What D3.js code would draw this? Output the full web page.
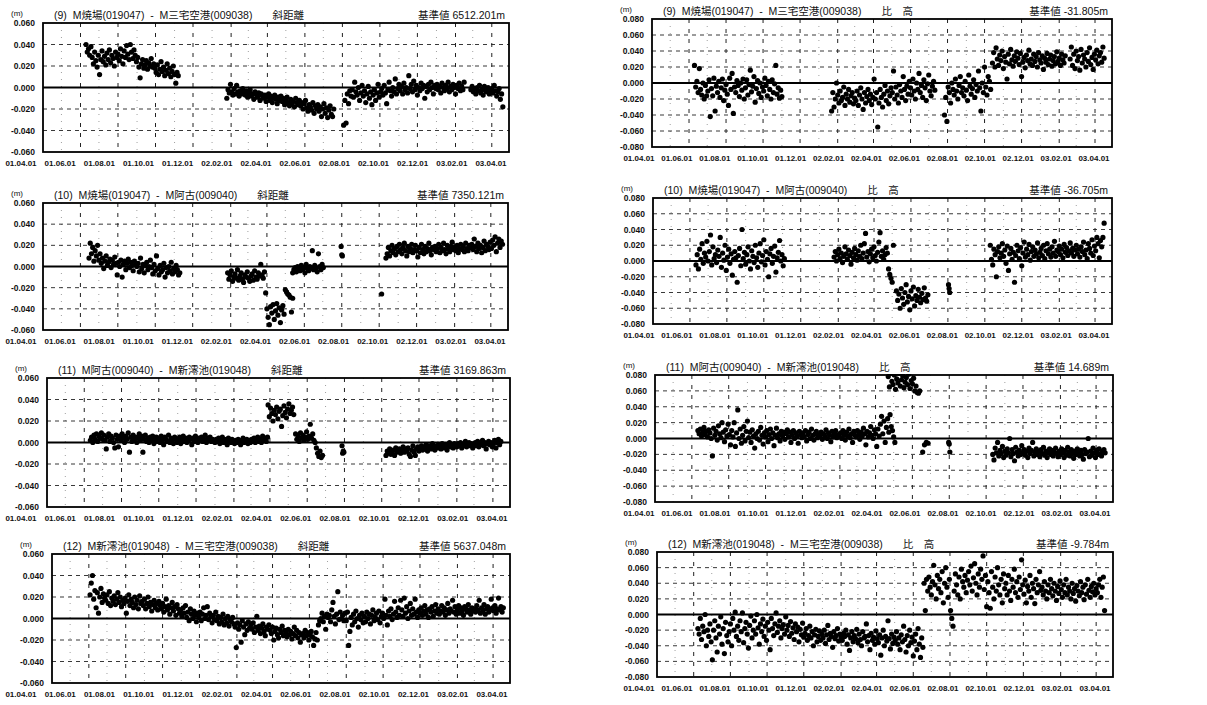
<!DOCTYPE html>
<html>
<head>
<meta charset="utf-8">
<script src="https://cdn.jsdelivr.net/npm/d3@7"></script>
<style>
body { margin: 0; background: #fff; }
svg text { font-family: "Liberation Sans", Arial, "Noto Sans CJK JP", sans-serif; fill: #111; }
</style>
</head>
<body>
<script>
// axis ticks
var xTickDates = ["2001-04-01", "2001-06-01", "2001-08-01", "2001-10-01", "2001-12-01", "2002-02-01",
    "2002-04-01", "2002-06-01", "2002-08-01", "2002-10-01", "2002-12-01", "2003-02-01", "2003-04-01"];
var yTicksDist = [-0.06, -0.04, -0.02, 0, 0.02, 0.04, 0.06];
var yTicksHgt = [-0.08, -0.06, -0.04, -0.02, 0, 0.02, 0.04, 0.06, 0.08];

// panel texts
var titles = ["(9)  M焼場(019047)  -  M三宅空港(009038)",
    "(10)  M焼場(019047)  -  M阿古(009040)",
    "(11)  M阿古(009040)  -  M新澪池(019048)",
    "(12)  M新澪池(019048)  -  M三宅空港(009038)"];
var baseDist = ["基準値 6512.201m", "基準値 7350.121m", "基準値 3169.863m", "基準値 5637.048m"];
var baseHgt = ["基準値 -31.805m", "基準値 -36.705m", "基準値 14.689m", "基準値 -9.784m"];

// data: [first day, step in days, values in mm]
var dist9 = [
    ["2001-06-10", 2, [40,33,36,30,38, 28,22,33,25,19,30,12,26,34,24, 29,21,32,26,35,23,30,27,20,33,28,
        31,25,36,29,22,34,28,39,31,26,40,33,27,35,30, 24,28,19,9,22,26,18,21,25,17,23,20,27,19,22,
        18,14,21,12,17,24,15,19,11,16,22,13,18,10,15,20,12,4,14,11]],
    ["2002-01-25", 2, [-10,-2,-5,3,-4,-7,-1,-6,2,-4,-8,-3,-6,-1,-5, -7,-3,-9,-5,-2,-8,-6,-11,-4,-7,-9,-5,-12,-6,-8,
        -10,-7,-13,-9,-6,-12,-8,-14,-10,-7,-11,-15,-9,-12,-8, -13,-10,-16,-12,-9,-14,-17,-11,-15,-13,-18,-10,-14,-16,-12,
        -17,-14,-20,-15,-12,-19,-22,-16,-18,-21,-14,-24,-17,-20,-16, -22,-18,-27,-20,-15,-24,-19,-28,-21,-17,-25,-27,-20]],
    ["2002-08-03", 2, [-35,-12,-33,-6,-15,-3,-8, -2,-9,5,-4,-7,0,-12,-5,2,-8,-3,-14,-6,1,-10,-4,-16,-7,-2,-12,-5,3,-9,
        -4,-1,-7,2,-5,-15,-2,5,-3,-8,0,-4,8,-6,-1,3, -3,1,-6,4,-2,0,-5,11,-1,3,-4,6,-2,2,-7,
        0,-3,4,-1,2,-10,1,-4,3,-2,5,0,-6,2,-1, 3,-2,1,-5,4,0,-3,2,-1,5,-4,1,-2,3,0,-6, 2,-1,4,-3,1,-2,5]],
    ["2003-02-26", 2, [-2,1,-4,-1,-6,0,-3,2,-5,-2,-7,1,-3,-4,0,-6,-2,-1,-5,2,-3,-8,-4,-1,-11,-6,-18]]
];
var hgt9 = [
    ["2001-06-10", 2, [22,-5,2,-12,18,-8,-15,0,-20,-3,-16, -10,4,-42,-7,-16,6,-35,-4,-12,2,-18,-6,5,-22,-9,
        -2,-14,-28,6,-8,12,-38,-5,-12,3,-3,-17,0,-9,5,-20, -6,4,-15,-2,16,-11,-4,8,-24,-7,3,-13,0,-18,-5,
        -10,6,-3,-16,2,-8,-20,4,-12,-1,22,-14,-6,-19,-9,-17]],
    ["2002-01-22", 2, [-35,-12,-30,-20,0,-15,-25,-10,-22,-18,-5,-28,-14,-20,-8,-24,-16,-12,-26,-19,
        -22,-10,-28,-15,-6,-20,-33,-12,-25,-17,-8,-22,-14,-27,-18, 5,-20,-12,-55,-25,-8,-18,-30,-14,-3,-22,-10,-26,-16,-6,
        -12,15,-20,-5,-15,-25,-2,-10,-18,8,-8,-22,-4,-14,2, -6,-15,5,-10,-20,0,-8,12,-12,-3,-18,4,-6,-22,-1,10,-10,-16,-4,2,-9]],
    ["2002-07-27", 2, [-40,-18,-48,-5,-12,-25,0,-8,-15,5,-10,-20,-3,8,-12,-6,-16,2,-9,-22,10,-4,-14,-7,4,-18,-2,-10,15,-6,
        -35,0,-12,20,-5,-15,8,2,-8]],
    ["2002-10-14", 2, [25,38,20,44,30,22,35,28,40,18, 33,26,5,36,24,42,29,21,34,27, 39,31,23,37,8,26,32,19,35,28,
        41,24,30,22,36,27,33,20,38,29, 25,34,17,31,26,37,23,30,35,21, 28,33,24,39,27,31,22,36,29,25, 34]],
    ["2003-02-19", 2, [30,45,22,36,18,40,28,33,16,42,25,35,30,20,38,27,44,23,32,17,36,29,41,24,34,38,26,45,31]]
];
var dist10 = [
    ["2001-06-15", 2, [8,22,12,18,5,15,10,20, 6,12,3,8,-2,5,10,1,4,7,-1,6,2,9,3, -8,4,0,6,-10,2,5,-3,3,7,-1,4,1,-4,5,2,
        0,3,-5,8,-2,2,-6,1,4,-3,0,6,-1,-7,2, -4,10,-2,-8,1,-5,-3,3,-10,-1,-6,0,-4,4,-7,-2,-5,1,-3,-8,-6]],
    ["2002-01-27", 2, [-6,-12,-8,-4,-14,-10,-7,-11,-3,-13,-9,-6,-12,-15,-8,-10,-5,-11,-14,-9,-7,-13,-4,-10,-12,-6,-9,2,-8,-11,-5]],
    ["2002-03-30", 2, [-25,-40,-48,-55,-38,-44,-36,-50,-42,-35,-46,-39,-53,-41,-37,-45,-22,-24,-26,-27,-29,-43,-30]],
    ["2002-05-13", 2, [-6,-3,-1,-5,0,-2,-4,1,-3,-1,-6,2,-2,-4,0,-1,15,-3,1,-2,-5,12,0,-3,2,-1]],
    ["2002-07-31", 1, [19,11,10]],
    ["2002-10-05", 1, [-26]],
    ["2002-10-12", 2, [8,12,18,10,15,20,13,17,11,19, 14,21,16,12,18,22,15,10,19,14,17,21,13,16,20,
        15,9,18,13,21,16,12,19,14,17,22,15,11,18,16, 19,14,17,21,13,18,15,22,16,12,20,17,14,19,23,16,
        18,15,20,13,17,21,16,19,14,22,17,15,20,18, 21,16,26,19,14,22,17,20,13,18,24,15,21,19,16,23,
        17,25,20,28,14,22,26,18,24,21]]
];
var hgt10 = [
    ["2001-06-11", 2, [-5,8,-10,15,2,22,-3,10,5,25, 0,12,33,-5,18,3,8,-2,14,6,30,-8,10,1,20,
        -12,5,15,-3,9,-18,2,12,4,-27,7,16,-6,40,3,11, -4,8,18,0,-10,13,6,-2,20,4,-8,10,22,-1,7,
        27,-5,12,2,-20,9,16,-3,6,19,-14,4,11,26,0,8,-6,3]],
    ["2002-01-25", 2, [5,12,0,8,15,3,10,-2,6,18, 9,2,14,7,-4,11,4,16,8,1, 13,6,20,3,10,22,35,5,12,-1,
        9,15,4,18,7,0,11,24,36,6, 13,2,8,17,10,-10,-17,-22,-27,20]],
    ["2002-05-08", 2, [-38,-50,-42,-60,-35,-47,-55,-40,-30,-52,-45,-62,-38,-48,-33,-57,-44,-50,-36,-46,-53,-41,-49,-34,-47,-51,-43]],
    ["2002-08-02", 1, [-30,-35,-40]],
    ["2002-10-10", 2, [20,2,-5,15,8,-20,12,18,4,10,22, 6,14,-3,19,-12,9,16,2,11,-27,7,20,13,3,17,
        -6,10,24,5,15,8,21,1,12,18,6,14,9,23,4, 11,16,7,20,3,13,22,9,15,5,18,10,25,6,14,12,
        19,8,15,4,21,11,17,7,13,23,10,16,6,14, 20,9,15,5,18,12,24,8,14,3,22,16,10,27,7,19, 13,30,22,4,26,18,30,48]]
];
var dist11 = [
    ["2001-06-11", 2, [2,5,0,7,3,8,1,6,4,9, 3,7,2,-6,5,8,1,6,4,0,-5,7,3,-4,6, 2,8,4,0,6,3,9,-9,5,1,7,3,5,0,4,8,
        2,6,-9,3,7,1,4,0,5,2,6,-1,3,5,1, 4,0,6,2,-2,5,3,1,7,0,4,2,-1,5,3,0, 2,5,-1,3,6,1,4,0,2,5,3,-2,4,1,6,
        3,0,4,2,5,1,3,7,0,4,2,5,1,3,2, 0,3,1,4,-1,2,5,0,3,1,-2,4,2,0,3,1, -1,2,0,3,1,-2,2,4,0,1,3,-1,2,0,
        3,1,4,0,2,5,1,3,0,6,2,4,1,5]],
    ["2002-03-29", 2, [35,24,32,27,20,30,26,33,22,29,31,15,25,34,28,23,31,36,27,30,33,26]],
    ["2002-05-13", 2, [8,3,6,1,9,4,7,2,5,10,3,6,17,4,8,2,0,-5,-10,-13,-8,-14,-12]],
    ["2002-07-28", 1, [-3,-10,-8,-9]],
    ["2002-10-08", 2, [-12,-8,-10,-6,-11,-9,-7,-12,-5,-9,-8,-6, -10,-7,-4,-9,-6,-8,-5,-11,-13,-7,-3,-9,-12,-6,-4,
        -8,-5,-3,-7,-4,-6,-2,-8,-5,-3,-6,-1,-4,-7,-3, -5,-2,-4,-6,-1,-3,-5,-2,-7,-3,0,-4,-2,-5,-1,-3,
        -4,-1,-3,0,-5,-2,-3,1,-4,-2,0,-3,-1,-5, -2,0,-3,1,-4,-1,-2,2,-3,0,-6,-1,1,-2,0,-4, -1,2,-5,0,3,-2,1]]
];
var hgt11 = [
    ["2001-06-11", 2, [10,6,12,3,8,14,5,9,2,11, 7,0,-22,13,4,9,-2,16,6,1,20,8,-4,11,3,18, 5,-8,10,2,20,-10,7,36,0,12,-6,4,15,-3,9,
        22,1,8,-5,11,3,-12,6,0,9,-2,14,4,-7,7, 2,10,-4,5,12,0,7,-9,4,13,1,6,-3,9,3,8, -1,6,11,2,8,-5,4,10,0,7,3,-6,9,5,1,
        7,2,10,-3,5,8,0,12,4,-2,6,9,1,5,3, 8,-1,6,3,11,0,7,4,-4,9,2,6,10,1,5,3, 7,0,10,4,-2,8,3,12,1,6,-5,9,4,2,
        10,5,-1,8,3,13,6,-8,9,2,7,15,4,0,11,6, -10,12,3,18,28,6,22,-5,14,25,8,30,15,10,2,-5]],
    ["2002-04-22", 2, [78,65,82,72,68,80,62,75,70,82,66,74,79,64,71,77,68,81,63,73,69,76,60,66,58,57,60]],
    ["2002-06-18", 3, [-17,-8,-5,-6]],
    ["2002-07-31", 1, [-5,-7,-17]],
    ["2002-10-12", 2, [-20,-27,-12,-18,-5,-22,-15,-19,-10,-24, -16,-21,-13,-18,0,-23,-14,-19,-28,-11,-17,-22,-15,-20,-9,
        -18,-14,-21,-16,-24,-12,-19,-15,-5,-22,-17,-13,-20,-16,-23, -14,-19,-11,-21,-16,-24,-18,-13,-20,-15,-22,-17,-12,-19,-23,-16,
        -20,-13,-18,-24,-15,-21,-11,-17,-22,-14,-19,-25,-16,-20, -13,-18,-22,-15,-20,-26,-14,-19,-17,0,-23,-16,-21,-12,-18,-24,
        -15,-20,-13,-19,-22,-16,-14,-18]]
];
var dist12 = [
    ["2001-06-03", 2, [22,33,40,18,26,10,24,5,20,28,15,23,19, 17,22,14,25,12,19,16,21,13,18,24,15,20,11,17,
        14,19,5,16,22,12,18,15,10,20,13,17,9,21,14,16, 12,18,9,14,20,11,15,7,13,17,10,14,8,16,12,
        9,14,6,11,18,8,12,4,10,15,7,11,3,13,9,5, 8,2,10,5,12,1,6,-2,9,4,0,7,3,-3,5, 1,6,-2,4,10,0,3,11,-1,5,2,-4,3,-1,6,
        -2,2,-5,1,-3,4,-6,0,-4,2,-7,-1,-3,1,-5,-8, -27,-4,-10,-6,-22,-2,-8,-15,-5,-11,-3,-9,
        -6,-10,-4,-13,-8,2,-11,-7,-14,-9,-5,-12,-16,-8,-10,-6, -11,-14,-8,-20,-12,-9,-15,-18,-10,-13,-7,-16,-11,
        -13,-17,-10,-15,-12,-19,-14,-8,-16,-11,-18,-13,-22,-15, -14,-18,-11,-16,-13,-20,-15,-12,-17,-25,-19,-13, -20,-6,-2]],
    ["2002-06-20", 2, [0,5,-3,2,-10,4,1,3,-3,8,15,2,-5,4,25,-1,6,0,3,-2,5, -2,6,-25,-12,1,-6,4,-3,7,0,-8,3,-1,5,-4,
        2,-3,6,0,4,-5,3,8,-2,1,5,-1,7,-4,2, 5,0,18,3,-6,7,2,9,-1,4,16,6,1,10,3,17, 8,2,19,5,11,0,7,14,3,9,4,18,6,1,8,
        5,10,3,7,12,4,8,1,9,6,11,2,7,13,5, 9,4,7,12,6,10,3,8,14,5,9,7,17,6,11,4, 8,12,5,10,7,3,11,9,6,13,8,4,10,7,
        9,6,12,8,17,5,10,7,13,4,9,11,6,8,18,10, 7,12,5,9,19,8,11,6,10]]
];
var hgt12 = [
    ["2001-06-08", 2, [-18,-25,-5,-32,-15,-22,0,-40,-20,-28,-12,-35, -58,-20,-8,-30,-48,-15,-25,-3,-38,-18,-50,-10,-27,-35,-22,
        -12,-40,-5,-20,3,-28,-15,-33,-8,-22,2,-36,-18,-10,-25,-43, -14,-2,-30,-20,-8,-25,0,-17,-38,-12,-22,-6,-28,-15,-33,
        -10,-20,-45,-5,-18,-27,-12,2,-23,-15,-8,-30,-18,-13,-25,-3, -20,-14,-28,-9,-24,-17,-32,-12,-22,-16,-35,-19,-26,-11,-29,
        -24,-18,-33,-27,-15,-30,-22,-40,-26,-19,-35,-28,-21,-33,-25, -30,-20,-37,-26,-14,-32,-24,-28,-42,-22,-31,-27,-18,-34,-25,-29,
        -33,-24,-28,-20,-38,-26,-46,-30,-22,-35,-27,-31,-19,-36, -25,-32,-40,-22,-30,-28,-12,-35,-27,-45,-24,-33,-29,-38,-21,-31,
        -36,-26,-52,-30,-20,-40,-28,-34,-8,-31,-44,-25,-37,-29,-33, -22,-38,-30,-45,-26,-35,-15,-32,-48,-27,-40,-20,-36,-29,-53,
        -34,-25,-45,-18,-38,-55,-30,-42]],
    ["2002-06-19", 2, [40,5,45,30,48,35, 25,42,63,38,20,50,33,45,28,55,15,40,60,35,22, 45,5,-5,-15,30,52,38,25,48,20,58,42,35,50,28,44,
        55,38,62,30,47,65,40,25,52,35,58,45,75,32,50, 10,42,28,8,55,35,20,48,30,60,38,25,45,15,52,33,
        40,25,50,30,18,45,35,58,28,42,22,48,32,70,38, 26,44,15,36,30,50,22,40,33,14,45,28,38,55,31,
        35,25,42,30,20,38,28,45,33,24,40,30,18,36,27,43, 32,22,38,28,45,25,35,30,20,40,27,33,17,37,
        30,24,42,28,35,19,38,26,45,31,22,36,29,40,25,33, 28,38,45,22,35,48,5]]
];

// layout of the plot areas [left, right, top, bottom]; label row starts at a fixed x per column
var leftBoxes = [[43, 509, 23, 152], [43, 508, 203, 330], [47, 510, 378, 507], [52, 510, 554, 683]];
var rightBoxes = [[652, 1112, 19, 147], [653, 1112, 198, 324], [655, 1113, 375, 502], [657, 1113, 552, 677]];

var parseDay = d3.utcParse("%Y-%m-%d");
var fmtX = d3.utcFormat("%y.%m.%d");
var fmtY = function(v) { return (v < 0 ? "-" : "") + Math.abs(v).toFixed(3); };

var svg = d3.select("body").append("svg")
    .attr("width", 1207)
    .attr("height", 705);

// turn segments into points
function toPoints(segs) {
    var pts = [];
    segs.forEach(function(s) {
        var t0 = parseDay(s[0]);
        s[2].forEach(function(v, i) {
            pts.push({ date: d3.utcDay.offset(t0, i * s[1]), value: v / 1000 });
        });
    });
    return pts;
}

var clipCount = 0;
function drawPanel(box, labelStart, segs, yTicks, title, kind, base) {
    var left = box[0], right = box[1], top = box[2], bottom = box[3];
    var lim = d3.max(yTicks);
    var x = d3.scaleUtc()
        .domain([parseDay("2001-04-01"), parseDay("2003-04-29")])
        .range([left, right]);
    var y = d3.scaleLinear().domain([-lim, lim]).range([bottom, top]);

    var g = svg.append("g");
    var dates = xTickDates.map(parseDay);

    // faint minor verticals on the odd months
    var minor = dates.slice(0, -1).map(function(d) { return d3.utcMonth.offset(d, 1); });
    g.selectAll(".mg").data(minor)
        .enter().append("line")
        .attr("x1", function(d) { return x(d); }).attr("x2", function(d) { return x(d); })
        .attr("y1", top).attr("y2", bottom)
        .attr("stroke", "#888").attr("stroke-width", 0.8).attr("stroke-dasharray", "1,6");

    // horizontal grid
    g.selectAll(".hg").data(yTicks.filter(function(t) { return t != 0 && Math.abs(t) != lim; }))
        .enter().append("line")
        .attr("x1", left).attr("x2", right)
        .attr("y1", function(d) { return y(d); }).attr("y2", function(d) { return y(d); })
        .attr("stroke", "#222").attr("stroke-width", 0.9).attr("stroke-dasharray", "4,4");

    // vertical grid
    g.selectAll(".vg").data(dates.slice(1))
        .enter().append("line")
        .attr("x1", function(d) { return x(d); }).attr("x2", function(d) { return x(d); })
        .attr("y1", top).attr("y2", bottom)
        .attr("stroke", "#222").attr("stroke-width", 1).attr("stroke-dasharray", "4,6");

    // zero line
    g.append("line")
        .attr("x1", left).attr("x2", right)
        .attr("y1", y(0)).attr("y2", y(0))
        .attr("stroke", "#000").attr("stroke-width", 2);

    // dots
    clipCount++;
    svg.append("clipPath").attr("id", "clip" + clipCount)
        .append("rect").attr("x", left).attr("y", top - 1)
        .attr("width", right - left).attr("height", bottom - top + 2);
    g.append("g").attr("clip-path", "url(#clip" + clipCount + ")")
        .selectAll("circle").data(toPoints(segs))
        .enter().append("circle")
        .attr("cx", function(d) { return x(d.date); })
        .attr("cy", function(d) { return y(d.value); })
        .attr("r", 2.6)
        .attr("fill", "#000");

    // frame
    g.append("rect")
        .attr("x", left).attr("y", top)
        .attr("width", right - left).attr("height", bottom - top)
        .attr("fill", "none").attr("stroke", "#000").attr("stroke-width", 1.8);

    // y labels
    g.selectAll(".yl").data(yTicks)
        .enter().append("text")
        .attr("x", left - 8)
        .attr("y", function(d) { return y(d) + 3; })
        .attr("text-anchor", "end")
        .attr("font-size", 8.5)
        .attr("font-weight", "bold")
        .text(fmtY);

    // x labels: evenly spread, a little left of the grid
    var lx = d3.scalePoint().domain(dates.map(String)).range([labelStart, right - 18]);
    g.selectAll(".xl").data(dates)
        .enter().append("text")
        .attr("x", function(d) { return lx(String(d)); })
        .attr("y", bottom + 14)
        .attr("text-anchor", "middle")
        .attr("font-size", 8)
        .attr("font-weight", "bold")
        .text(fmtX);

    // unit
    g.append("text")
        .attr("x", left - 32).attr("y", top - 7)
        .attr("font-size", 8)
        .text("(m)");

    // title
    var t = g.append("text")
        .attr("x", left + 11).attr("y", top - 4)
        .attr("font-size", 10.5)
        .style("white-space", "pre")
        .text(title);
    var w = t.node().getComputedTextLength();
    g.append("text")
        .attr("x", left + 11 + w + 20).attr("y", top - 4)
        .attr("font-size", 10.5)
        .style("white-space", "pre")
        .text(kind);
    g.append("text")
        .attr("x", right - 4).attr("y", top - 4)
        .attr("text-anchor", "end")
        .attr("font-size", 10.5)
        .text(base);
}

var distData = [dist9, dist10, dist11, dist12];
var hgtData = [hgt9, hgt10, hgt11, hgt12];
for (var i = 0; i < 4; i++) {
    drawPanel(leftBoxes[i], 21, distData[i], yTicksDist, titles[i], "斜距離", baseDist[i]);
    drawPanel(rightBoxes[i], 639, hgtData[i], yTicksHgt, titles[i], "比　高", baseHgt[i]);
}
</script>
</body>
</html>
